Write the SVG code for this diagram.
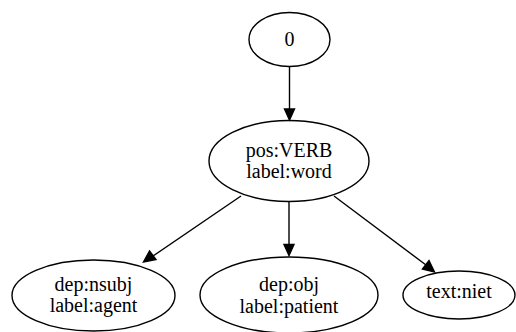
<svg xmlns="http://www.w3.org/2000/svg" width="516" height="332" viewBox="0 0 516 332">
<style>
.n{fill:none;stroke:#000;stroke-width:1.4}
.t{font-family:"Liberation Serif","Times New Roman",serif;font-size:20px;fill:#000;text-anchor:middle}
.e{stroke:#000;stroke-width:1.4;fill:none}
.h{fill:#000;stroke:#000;stroke-width:1.4}
</style>
<rect width="516" height="332" fill="#fff"/>
<g id="edges">
<path class="e" d="M289.5,66.5 L289.5,110"/>
<polygon class="h" points="284.5,109 294.5,109 289.5,120"/>
<path class="e" d="M241,196 L153,256"/>
<polygon class="h" points="149.5,251 156,259.5 143.5,262"/>
<path class="e" d="M289,202 L289,245"/>
<polygon class="h" points="284,244.5 294,244.5 289,255.5"/>
<path class="e" d="M334,196 L426,265"/>
<polygon class="h" points="422.5,269 429,260.5 434.5,272"/>
</g>
<g id="node0">
<ellipse class="n" cx="289.5" cy="39.5" rx="40.5" ry="27"/>
<text class="t" x="289.5" y="46">0</text>
</g>
<g id="node1">
<ellipse class="n" cx="289" cy="161" rx="80" ry="40.5"/>
<text class="t" x="289" y="156.5">pos:VERB</text>
<text class="t" x="289" y="178">label:word</text>
</g>
<g id="node2">
<ellipse class="n" cx="93.5" cy="295.5" rx="81.5" ry="35.5"/>
<text class="t" x="93.5" y="291">dep:nsubj</text>
<text class="t" x="93.5" y="312">label:agent</text>
</g>
<g id="node3">
<ellipse class="n" cx="289" cy="295" rx="89" ry="38"/>
<text class="t" x="289" y="291">dep:obj</text>
<text class="t" x="289" y="312.5">label:patient</text>
</g>
<g id="node4">
<ellipse class="n" cx="459" cy="295" rx="56" ry="24"/>
<text class="t" x="459" y="298">text:niet</text>
</g>
</svg>
